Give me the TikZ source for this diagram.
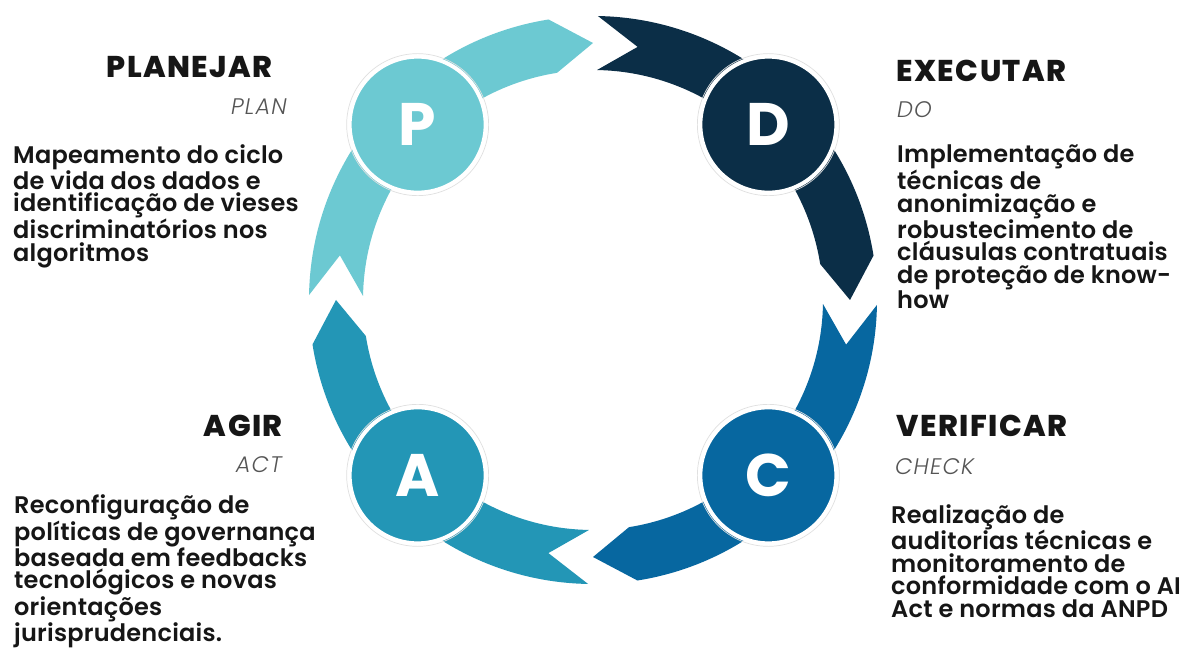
\documentclass[tikz,border=0pt]{standalone}
\usepackage{fontspec}
\setmainfont{Poppins}
\newfontfamily\bodyf{Poppins SemiBold}[LetterSpace=1]
\newfontfamily\ttlf{Poppins ExtraBold}[LetterSpace=5]
\newfontfamily\subf{Poppins Light Italic}[LetterSpace=5]
\usetikzlibrary{positioning}
\definecolor{cplan}{HTML}{6CC9D2}
\definecolor{cdo}{HTML}{0B2E47}
\definecolor{ccheck}{HTML}{0767A0}
\definecolor{cact}{HTML}{2396B6}
\definecolor{txt}{HTML}{161616}
\definecolor{subg}{HTML}{555555}

\begin{document}
\begin{tikzpicture}[x=1pt,y=1pt,
    lettr/.style={circle,draw=white,line width=4pt,minimum size=136pt,inner sep=0pt,text=white,font=\fontsize{60}{60}\selectfont\bfseries},
    halo/.style={black!12,line width=0.7pt},
    ttl/.style={font=\ttlf\fontsize{30}{30}\selectfont,text=txt,inner sep=0pt},
    sub/.style={font=\subf\fontsize{22.5}{22.5}\selectfont,text=subg,inner sep=0pt},
    body/.style={font=\bodyf\fontsize{24}{22.4}\selectfont,text=txt,align=left,inner sep=0pt}]
    \fill[white] (0,0) rectangle (1201,650);
    \useasboundingbox (0,0) rectangle (1201,650);
    \coordinate (O) at (593,350);
    % four bands, clockwise: notch at the tail, point at the head
    \foreach \a/\b/\c in {180/90/cplan,90/0/cdo,0/-90/ccheck,-90/-180/cact}{
      \fill[\c,shift={(O)}] (\a-1:284) arc[start angle=\a-1,end angle=\b+9,radius=284] -- (\b:257)
        -- (\b+9:230) arc[start angle=\b+9,end angle=\a-1,radius=230] -- (\a-10:257) -- cycle;}
    \foreach \n/\ang/\c in {P/135/cplan,D/45/cdo,C/-45/ccheck,A/-135/cact}{
      \node[lettr,fill=\c] (\n) at ([shift={(\ang:248)}]O) {\n};
      \draw[halo] (\n) circle[radius=71];}
    % PLAN
    \node[ttl,anchor=base east] (plan) at (273,572) {PLANEJAR};
    \node[sub,anchor=base east] (plansub) at (287,535) {PLAN};
    \node[body,anchor=north west] (plantxt) at (13,506) {Mapeamento do ciclo\\de vida dos dados e\\identificação de vieses\\discriminatórios nos\\algoritmos};
    % DO
    \node[ttl,anchor=base west] (do) at (896,568) {EXECUTAR};
    \node[sub,anchor=base west] (dosub) at (897,532) {DO};
    \node[body,anchor=north west] (dotxt) at (897,505) {Implementação de\\técnicas de\\anonimização e\\robustecimento de\\cláusulas contratuais\\de proteção de know-\\how};
    % CHECK
    \node[ttl,anchor=base west] (check) at (896,213) {VERIFICAR};
    \node[sub,anchor=base west] (checksub) at (895,175) {CHECK};
    \node[body,anchor=north west] (checktxt) at (891,146) {Realização de\\auditorias técnicas e\\monitoramento de\\conformidade com o AI\\Act e normas da ANPD};
    % ACT
    \node[ttl,anchor=base east] (act) at (283,213) {AGIR};
    \node[sub,anchor=base east] (actsub) at (282,177) {ACT};
    \node[body,anchor=north west] (acttxt) at (14,156) {Reconfiguração de\\políticas de governança\\baseada em feedbacks\\tecnológicos e novas\\orientações\\jurisprudenciais.};
\end{tikzpicture}
\end{document}
